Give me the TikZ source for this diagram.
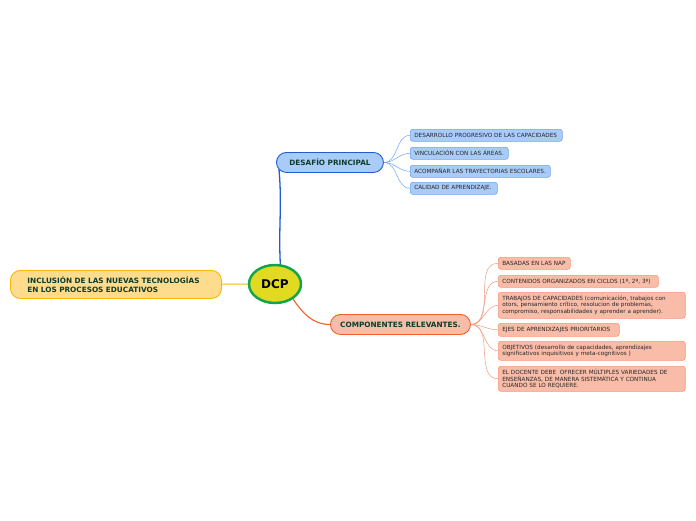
\documentclass[tikz,border=0pt]{standalone}
\usepackage{fontspec}
\setmainfont{DejaVu Sans}
\usetikzlibrary{shapes.geometric}

\definecolor{azulF}{HTML}{A9CBF7}
\definecolor{azulB}{HTML}{1E5FD0}
\definecolor{azulL}{HTML}{6FA3EE}
\definecolor{rojoF}{HTML}{F9BCA8}
\definecolor{rojoB}{HTML}{F0602E}
\definecolor{rojoL}{HTML}{F6987C}
\definecolor{amaF}{HTML}{FDDC8E}
\definecolor{amaB}{HTML}{F6B700}
\definecolor{dcpF}{HTML}{E2DA20}
\definecolor{dcpB}{HTML}{12A54B}
\definecolor{txtV}{HTML}{0D3B2C}

\tikzset{main_style/.style={rectangle, rounded corners=10pt, line width=0.9pt, anchor=north west,
    inner xsep=0pt, minimum height=20pt, text=txtV, font=\fontsize{7.3}{9}\selectfont\bfseries}}
\tikzset{leaf_style/.style={rectangle, rounded corners=2.5pt, line width=0.6pt, anchor=north west,
    inner xsep=4pt, inner ysep=1pt, align=left, text=black!85, font=\fontsize{5.7}{6.6}\selectfont}}
\tikzset{a_style/.style={leaf_style, fill=azulF, draw=azulL, minimum height=12pt}}
\tikzset{r_style/.style={leaf_style, fill=rojoF, draw=rojoL}}

\begin{document}
\begin{tikzpicture}[x=1pt, y=-1pt]
    \useasboundingbox (0,0) rectangle (696,520);

    \node[ellipse, fill=dcpF, draw=dcpB, line width=2.5pt, minimum width=52pt, minimum height=38pt,
        font=\fontsize{12}{14}\selectfont\bfseries] (dcp) at (275,284) {DCP};

    \node[main_style, fill=amaF, draw=amaB, minimum width=211pt, minimum height=28pt,
        text width=211pt, align=left] (inc) at (10,270)
        {\hspace*{17pt}INCLUSIÓN DE LAS NUEVAS TECNOLOGÍAS\\\hspace*{17pt}EN LOS PROCESOS EDUCATIVOS};
    \node[main_style, fill=azulF, draw=azulB, minimum width=107pt] (des) at (276,152) {DESAFÍO PRINCIPAL};
    \node[main_style, fill=rojoF, draw=rojoB, minimum width=140pt] (com) at (330,314) {COMPONENTES RELEVANTES.};

    % desafio
    \node[a_style, text width=144pt] (d1) at (410,129) {DESARROLLO PROGRESIVO DE LAS CAPACIDADES};
    \node[a_style, text width=90pt] (d2) at (410,147) {VINCULACIÓN CON LAS ÁREAS.};
    \node[a_style, text width=132pt] (d3) at (410,165) {ACOMPAÑAR LAS TRAYECTORIAS ESCOLARES.};
    \node[a_style, text width=79pt] (d4) at (410,182) {CALIDAD DE APRENDIZAJE.};

    % componentes
    \node[r_style, text width=64pt, minimum height=12pt] (c1) at (498,257) {BASADAS EN LAS NAP};
    \node[r_style, text width=152pt, minimum height=12pt] (c2) at (498,275) {CONTENIDOS ORGANIZADOS EN CICLOS (1º, 2º, 3º)};
    \node[r_style, text width=179pt, minimum height=26pt] (c3) at (498,292)
        {TRABAJOS DE CAPACIDADES (comunicación, trabajos con\\otors, pensamiento crítico, resolucion de problemas,\\compromiso, responsabilidades y aprender a aprender).};
    \node[r_style, text width=113pt, minimum height=13pt] (c4) at (498,323) {EJES DE APRENDIZAJES PRIORITARIOS};
    \node[r_style, text width=179pt, minimum height=19pt] (c5) at (498,341)
        {OBJETIVOS (desarrollo de capacidades, aprendizajes\\significativos inquisitivos y meta-cognitivos )};
    \node[r_style, text width=179pt, minimum height=25pt] (c6) at (498,366)
        {EL DOCENTE DEBE \ OFRECER MÚLTIPLES VARIEDADES DE\\ENSEÑANZAS, DE MANERA SISTEMÁTICA Y CONTINUA\\CUANDO SE LO REQUIERE.};

    \draw[amaB, line width=1.1pt] (inc) -- (dcp);
    \draw[azulB, line width=1.3pt] (dcp.75) to[out=93, in=-85] ([shift={(3,7)}]des.west);
    \draw[rojoB, line width=1.1pt] (dcp.-40) to[out=-55, in=180] (com.west);

    \foreach \n in {d1,d2,d3,d4}
        \draw[azulL, line width=0.5pt] (des.east) to[out=0, in=180] (\n.west);
    \foreach \n in {c1,c2,c3,c4,c5,c6}
        \draw[rojoL, line width=0.5pt] (com.east) to[out=0, in=180] (\n.west);

\end{tikzpicture}
\end{document}
